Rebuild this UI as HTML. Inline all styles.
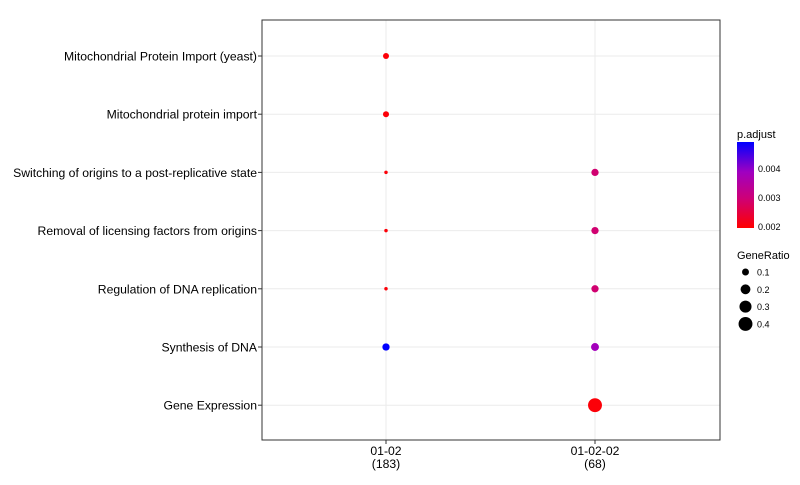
<!DOCTYPE html>
<html><head><meta charset="utf-8"><style>
body{margin:0;background:#fff;font-family:"Liberation Sans",sans-serif}
</style></head><body>
<svg id="chart" width="800" height="480" xmlns="http://www.w3.org/2000/svg">
<defs><linearGradient id="grad" x1="0" y1="1" x2="0" y2="0">
<stop offset="0" stop-color="#ff0000"/><stop offset="0.35" stop-color="#cd0078"/><stop offset="0.65" stop-color="#a000c0"/><stop offset="1" stop-color="#0000ff"/></linearGradient></defs>
<g id="grid"></g>
<rect x="262" y="20" width="458" height="420" fill="none" stroke="#333" stroke-width="1"/>
<g id="ylabels"></g><g id="xlabels"></g><g id="dots"></g>
<g>
<text x="737" y="138" font-size="11">p.adjust</text>
<rect x="737" y="142" width="17" height="86" fill="url(#grad)"/>
<text x="758" y="172" font-size="9">0.004</text>
<text x="758" y="201" font-size="9">0.003</text>
<text x="758" y="230" font-size="9">0.002</text>
</g>
<g id="sizelegend">
<text x="737" y="259" font-size="11">GeneRatio</text>
</g>
</svg>
<script>
const categories=["Mitochondrial Protein Import (yeast)","Mitochondrial protein import","Switching of origins to a post-replicative state","Removal of licensing factors from origins","Regulation of DNA replication","Synthesis of DNA","Gene Expression"];
const groups=["01-02\n(183)","01-02-02\n(68)"];
const geneRatioA=[0.075,0.075,0.025,0.025,0.025,0.11,null];
const geneRatioB=[null,null,0.11,0.11,0.11,0.13,0.4];
const padjA=[0.0020,0.0020,0.0020,0.0020,0.0020,0.0049,null];
const padjB=[null,null,0.0029,0.0029,0.0029,0.0038,0.0020];
const sizeTicks=[0.1,0.2,0.3,0.4];
const NS="http://www.w3.org/2000/svg";
function mk(t,a,p){const e=document.createElementNS(NS,t);for(const k in a)e.setAttribute(k,a[k]);p.appendChild(e);return e;}
const yS=i=>56+i*58.2;
const xS=j=>386+j*209;
const rS=v=>11*Math.sqrt(v);
const stops=[[0,[255,0,0]],[0.35,[205,0,120]],[0.65,[160,0,192]],[1,[0,0,255]]];
function col(p){let t=(p-0.00193)/(0.0049-0.00193);t=Math.max(0,Math.min(1,t));
for(let k=1;k<stops.length;k++){if(t<=stops[k][0]){const [t0,c0]=stops[k-1],[t1,c1]=stops[k];const f=(t-t0)/(t1-t0);
const c=c0.map((v,i)=>Math.round(v+(c1[i]-v)*f));return `rgb(${c[0]},${c[1]},${c[2]})`;}}
return 'rgb(0,0,255)';}
const grid=document.getElementById('grid');
categories.forEach((c,i)=>{
const l=mk('line',{x1:262,x2:720,y1:yS(i),y2:yS(i),stroke:'#ebebeb','stroke-width':1},grid);

mk('line',{x1:258,x2:262,y1:yS(i),y2:yS(i),stroke:'#333'},grid);
const t=mk('text',{x:257,y:yS(i)+4.5,'font-size':12.2,'text-anchor':'end',fill:'#000'},document.getElementById('ylabels'));
t.textContent=c;

});
groups.forEach((g,j)=>{
const l=mk('line',{x1:xS(j),x2:xS(j),y1:20,y2:440,stroke:'#ebebeb'},grid);

mk('line',{x1:xS(j),x2:xS(j),y1:440,y2:444,stroke:'#333'},grid);
g.split('\n').forEach((s,k)=>{
const t=mk('text',{x:xS(j),y:455+k*13,'font-size':12.2,'text-anchor':'middle'},document.getElementById('xlabels'));
t.textContent=s;

});
});
const dots=document.getElementById('dots');
[[geneRatioA,padjA],[geneRatioB,padjB]].forEach(([gr,pa],j)=>{
gr.forEach((v,i)=>{if(v==null)return;
const c=mk('circle',{cx:xS(j),cy:yS(i),r:rS(v),fill:col(pa[i])},dots);

});});
const sl=document.getElementById('sizelegend');
sizeTicks.forEach((v,k)=>{
const y=272+k*17.3;
const c=mk('circle',{cx:745.5,cy:y,r:rS(v),fill:'#000'},sl);

const t=mk('text',{x:757,y:y+3.5,'font-size':9},sl);t.textContent=v;

});
</script>
</body></html>
